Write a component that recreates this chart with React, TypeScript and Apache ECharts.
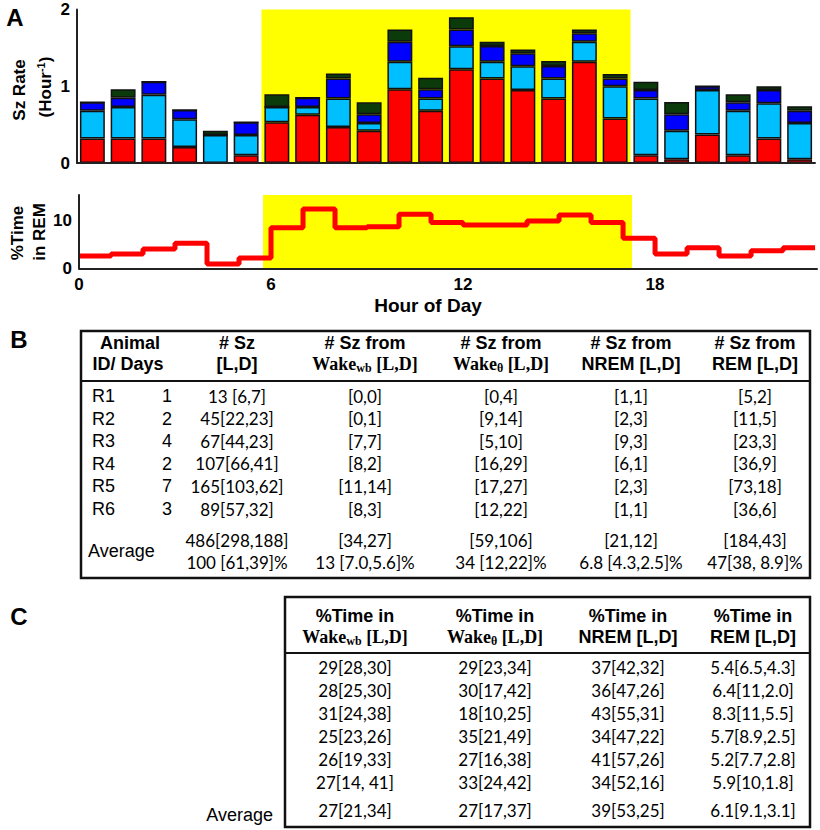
import { useEffect, useRef } from 'react';
import * as echarts from 'echarts';

// ---- Panel A: seizure rate by hour (stacked by state) ----
const hours = ['0', '1', '2', '3', '4', '5', '6', '7', '8', '9', '10', '11', '12', '13', '14', '15', '16', '17', '18', '19', '20', '21', '22', '23'];
const rateRem = [0.32, 0.32, 0.32, 0.21, 0, 0.10, 0.53, 0.63, 0.47, 0.42, 0.96, 0.68, 1.22, 1.10, 0.95, 0.84, 1.32, 0.58, 0.10, 0.05, 0.37, 0.10, 0.32, 0.05];
const rateWakeTheta = [0.36, 0.41, 0.57, 0.36, 0.365, 0.265, 0.20, 0.10, 0.37, 0.10, 0.36, 0.16, 0.30, 0.22, 0.31, 0.26, 0.26, 0.42, 0.74, 0.37, 0.58, 0.58, 0.46, 0.47];
const rateWakeWb = [0.11, 0.12, 0.17, 0.12, 0, 0.165, 0, 0.12, 0.26, 0.115, 0.26, 0.12, 0.22, 0.205, 0.17, 0.165, 0.11, 0.10, 0.11, 0.215, 0.05, 0.11, 0.17, 0.16];
const rateNrem = [0, 0.11, 0, 0, 0.055, 0, 0.165, 0, 0.065, 0.155, 0.16, 0.15, 0.16, 0.055, 0.05, 0.065, 0.05, 0.06, 0.11, 0.16, 0, 0.105, 0.05, 0.06];
const lightPhase = [6, 18];

// ---- %Time in REM by hour ----
const remHours = [0, 1, 2, 3, 4, 5, 6, 7, 8, 9, 10, 11, 12, 13, 14, 15, 16, 17, 18, 19, 20, 21, 22];
const remPct = [2.6, 3.0, 4.05, 5.25, 0.9, 2.15, 8.5, 12.45, 8.5, 8.75, 11.35, 9.6, 9.1, 9.1, 9.95, 11.2, 9.6, 6.3, 3.0, 4.3, 2.6, 3.7, 4.3];
const remLightPhase = [5.75, 17.28];
const xTickLabels = ['0', '6', '12', '18'];

// ---- Panel B table ----
const animalIds = ['R1', 'R2', 'R3', 'R4', 'R5', 'R6'];
const animalDays = ['1', '2', '4', '2', '7', '3'];
const szTotal = ['13 [6,7]', '45[22,23]', '67[44,23]', '107[66,41]', '165[103,62]', '89[57,32]'];
const szWakeWb = ['[0,0]', '[0,1]', '[7,7]', '[8,2]', '[11,14]', '[8,3]'];
const szWakeTheta = ['[0,4]', '[9,14]', '[5,10]', '[16,29]', '[17,27]', '[12,22]'];
const szNrem = ['[1,1]', '[2,3]', '[9,3]', '[6,1]', '[2,3]', '[1,1]'];
const szRemCounts = ['[5,2]', '[11,5]', '[23,3]', '[36,9]', '[73,18]', '[36,6]'];
const szAverageCounts = ['486[298,188]', '[34,27]', '[59,106]', '[21,12]', '[184,43]'];
const szAveragePct = ['100 [61,39]%', '13 [7.0,5.6]%', '34 [12,22]%', '6.8 [4.3,2.5]%', '47[38, 8.9]%'];

// ---- Panel C table ----
const timeWakeWb = ['29[28,30]', '28[25,30]', '31[24,38]', '25[23,26]', '26[19,33]', '27[14, 41]'];
const timeWakeTheta = ['29[23,34]', '30[17,42]', '18[10,25]', '35[21,49]', '27[16,38]', '33[24,42]'];
const timeNrem = ['37[42,32]', '36[47,26]', '43[55,31]', '34[47,22]', '41[57,26]', '34[52,16]'];
const timeRem = ['5.4[6.5,4.3]', '6.4[11,2.0]', '8.3[11,5.5]', '5.7[8.9,2.5]', '5.2[7.7,2.8]', '5.9[10,1.8]'];
const timeAverage = ['27[21,34]', '27[17,37]', '39[53,25]', '6.1[9.1,3.1]'];

const SANS = 'Liberation Sans, Arial, sans-serif';
const SERIF = 'Liberation Serif, Times New Roman, serif';
const BODY = 'Lato, sans-serif';

function txt(text: string, x: number, y: number, font: string, align = 'center', rotation = 0): any {
  return {
    type: 'text',
    x,
    y,
    rotation,
    z: 20,
    style: { text, x: 0, y: 0, font, fill: '#000', textAlign: align, textVerticalAlign: 'middle', verticalAlign: 'middle' },
  };
}

function richHeader(main: string, sub: string, x: number, y: number): any {
  return {
    type: 'text',
    x,
    y,
    z: 20,
    style: {
      text: `{b|Wake}{s|${sub}}{b|${main}}`,
      x: 0,
      y: 0,
      fill: '#000',
      textAlign: 'center',
      textVerticalAlign: 'middle',
      verticalAlign: 'middle',
      rich: {
        b: { fontFamily: SERIF, fontWeight: 'bold', fontSize: 18, lineHeight: 20, verticalAlign: 'middle', fill: '#000' },
        s: { fontFamily: SERIF, fontWeight: 'bold', fontSize: 12, lineHeight: 13, verticalAlign: 'bottom', fill: '#000' },
      },
    },
  };
}

function buildGraphics(): any[] {
  const g: any[] = [];
  g.push(txt('A', 15, 17, `bold 24px ${SANS}`));
  g.push(txt('B', 19, 339, `bold 24px ${SANS}`));
  g.push(txt('C', 19, 616, `bold 24px ${SANS}`));

  g.push(txt('Sz Rate', 19, 90, `bold 17px ${SANS}`, 'center', Math.PI / 2));
  g.push({
    type: 'text',
    x: 45,
    y: 87,
    rotation: Math.PI / 2,
    z: 20,
    style: {
      text: '{a|(Hour}{p|-1}{a|)}',
      x: 0,
      y: 0,
      textAlign: 'center',
      textVerticalAlign: 'middle',
      verticalAlign: 'middle',
      rich: {
        a: { fontFamily: SANS, fontWeight: 'bold', fontSize: 17, lineHeight: 20, verticalAlign: 'middle', fill: '#000' },
        p: { fontFamily: SANS, fontWeight: 'bold', fontSize: 11, lineHeight: 12, verticalAlign: 'top', fill: '#000' },
      },
    },
  });
  g.push(txt('%Time', 17, 233, `bold 17px ${SANS}`, 'center', Math.PI / 2));
  g.push(txt('in REM', 39, 232, `bold 17px ${SANS}`, 'center', Math.PI / 2));
  g.push(txt('Hour of Day', 428, 305, `bold 19px ${SANS}`));

  // ---- table B ----
  g.push({ type: 'rect', z: 15, shape: { x: 81, y: 331, width: 729, height: 247 }, style: { fill: 'none', stroke: '#111', lineWidth: 2.5 } });
  g.push({ type: 'line', z: 15, shape: { x1: 81, y1: 381, x2: 810, y2: 381 }, style: { stroke: '#111', lineWidth: 2 } });
  const hb = `bold 18px ${SANS}`;
  g.push(txt('Animal', 130, 343, hb));
  g.push(txt('ID/ Days', 128, 364, hb));
  g.push(txt('# Sz', 237, 343, hb));
  g.push(txt('[L,D]', 237, 364, hb));
  const bCols = [365, 501, 631, 755];
  bCols.forEach((cx) => g.push(txt('# Sz from', cx, 343, hb)));
  g.push(richHeader(' [L,D]', 'wb', 365, 364));
  g.push(richHeader(' [L,D]', 'θ', 501, 364));
  g.push(txt('NREM [L,D]', 631, 364, hb));
  g.push(txt('REM [L,D]', 755, 364, hb));

  const bRows = [396, 418.5, 441, 463.5, 486, 509];
  const rowFont = `18px ${SANS}`;
  const bodyFont = `17px ${BODY}`;
  const bColumns = [szTotal, szWakeWb, szWakeTheta, szNrem, szRemCounts];
  const bCenters = [237, 365, 501, 631, 755];
  bRows.forEach((ry, i) => {
    g.push(txt(animalIds[i], 92, ry, rowFont, 'left'));
    g.push(txt(animalDays[i], 167, ry, rowFont));
    bColumns.forEach((col, j) => g.push(txt(col[i], bCenters[j], ry, bodyFont)));
  });
  g.push(txt('Average', 88, 551, rowFont, 'left'));
  szAverageCounts.forEach((s, j) => g.push(txt(s, bCenters[j], 540, bodyFont)));
  szAveragePct.forEach((s, j) => g.push(txt(s, bCenters[j], 562, bodyFont)));

  // ---- table C ----
  g.push({ type: 'rect', z: 15, shape: { x: 285, y: 597, width: 525, height: 230 }, style: { fill: 'none', stroke: '#111', lineWidth: 2.5 } });
  g.push({ type: 'line', z: 15, shape: { x1: 285, y1: 653, x2: 810, y2: 653 }, style: { stroke: '#111', lineWidth: 2 } });
  const cCenters = [355, 495, 628, 753];
  cCenters.forEach((cx) => g.push(txt('%Time in', cx, 616, hb)));
  g.push(richHeader(' [L,D]', 'wb', 355, 637));
  g.push(richHeader(' [L,D]', 'θ', 495, 637));
  g.push(txt('NREM [L,D]', 628, 637, hb));
  g.push(txt('REM [L,D]', 753, 637, hb));
  const cRows = [667, 690.5, 713.5, 736, 759, 782];
  const cColumns = [timeWakeWb, timeWakeTheta, timeNrem, timeRem];
  cRows.forEach((ry, i) => {
    cColumns.forEach((col, j) => g.push(txt(col[i], cCenters[j], ry, bodyFont)));
  });
  timeAverage.forEach((s, j) => g.push(txt(s, cCenters[j], 810, bodyFont)));
  g.push(txt('Average', 273, 815, rowFont, 'right'));
  return g;
}

export default function App() {
  const ref = useRef<HTMLDivElement>(null);
  useEffect(() => {
    if (!ref.current) return;
    const chart = echarts.init(ref.current, null, { renderer: 'svg' });
    const axisLine = { show: true, onZero: false, lineStyle: { color: '#222', width: 2 } };
    const axisFont = { color: '#000', fontWeight: 'bold' as const, fontSize: 17, fontFamily: SANS };
    const mkBar = (name: string, values: number[], color: string) => ({
      name,
      type: 'bar',
      xAxisIndex: 0,
      yAxisIndex: 0,
      stack: 'sz',
      barCategoryGap: '19%',
      data: values,
      itemStyle: { color, borderColor: '#111', borderWidth: 1.5 },
    });
    const remLine = remHours.map((h, i) => [h, remPct[i]]);
    remLine.push([remHours[remHours.length - 1] + 1, remPct[remPct.length - 1]]);

    chart.setOption({
      animation: false,
      backgroundColor: '#fff',
      grid: [
        { left: 77, top: 9.5, width: 738, height: 153.5 },
        { left: 79, top: 195, width: 738, height: 73.3 },
      ],
      xAxis: [
        {
          gridIndex: 0, type: 'category', data: hours, z: 10,
          axisLine, axisTick: { show: false }, axisLabel: { show: false }, splitLine: { show: false },
        },
        {
          gridIndex: 1, type: 'value', min: 0, max: 23.06, interval: 6, z: 10,
          axisLine, axisTick: { show: false }, splitLine: { show: false },
          axisLabel: {
            ...axisFont, margin: 8,
            formatter: (v: number) => (xTickLabels.includes(String(v)) ? String(v) : ''),
          },
        },
        {
          gridIndex: 0, type: 'value', min: 0, max: 24, show: false,
        },
      ],
      yAxis: [
        {
          gridIndex: 0, type: 'value', min: 0, max: 2, interval: 1, z: 10,
          axisLine, axisTick: { show: false }, splitLine: { show: false },
          axisLabel: { ...axisFont, margin: 7 },
        },
        {
          gridIndex: 1, type: 'value', min: 0, max: 15.4, interval: 10, z: 10,
          axisLine, axisTick: { show: false }, splitLine: { show: false },
          axisLabel: { ...axisFont, margin: 7, formatter: (v: number) => (v % 10 === 0 ? String(v) : '') },
        },
      ],
      series: [
        {
          name: 'light phase',
          type: 'line',
          xAxisIndex: 2,
          yAxisIndex: 0,
          symbol: 'none',
          silent: true,
          data: [[lightPhase[0], 0], [lightPhase[1], 0]],
          lineStyle: { opacity: 0 },
          z: 1,
          markArea: {
            silent: true,
            itemStyle: { color: '#ffff00', opacity: 1 },
            data: [[{ xAxis: lightPhase[0] }, { xAxis: lightPhase[1] }]],
          },
        },
        mkBar('REM', rateRem, '#ff0000'),
        mkBar('Wakeθ', rateWakeTheta, '#00bfff'),
        mkBar('Wakewb', rateWakeWb, '#0000ff'),
        mkBar('NREM', rateNrem, '#0b3a0b'),
        {
          name: '%Time in REM',
          type: 'line',
          xAxisIndex: 1,
          yAxisIndex: 1,
          step: 'end',
          symbol: 'none',
          data: remLine,
          lineStyle: { color: '#ff0000', width: 5 },
          markArea: {
            silent: true,
            itemStyle: { color: '#ffff00', opacity: 1 },
            data: [[{ xAxis: remLightPhase[0] }, { xAxis: remLightPhase[1] }]],
          },
        },
      ],
      graphic: buildGraphics(),
    });
    return () => chart.dispose();
  }, []);
  return <div ref={ref} style={{ position: 'fixed', left: 0, top: 0, width: 820, height: 830 }} />;
}
